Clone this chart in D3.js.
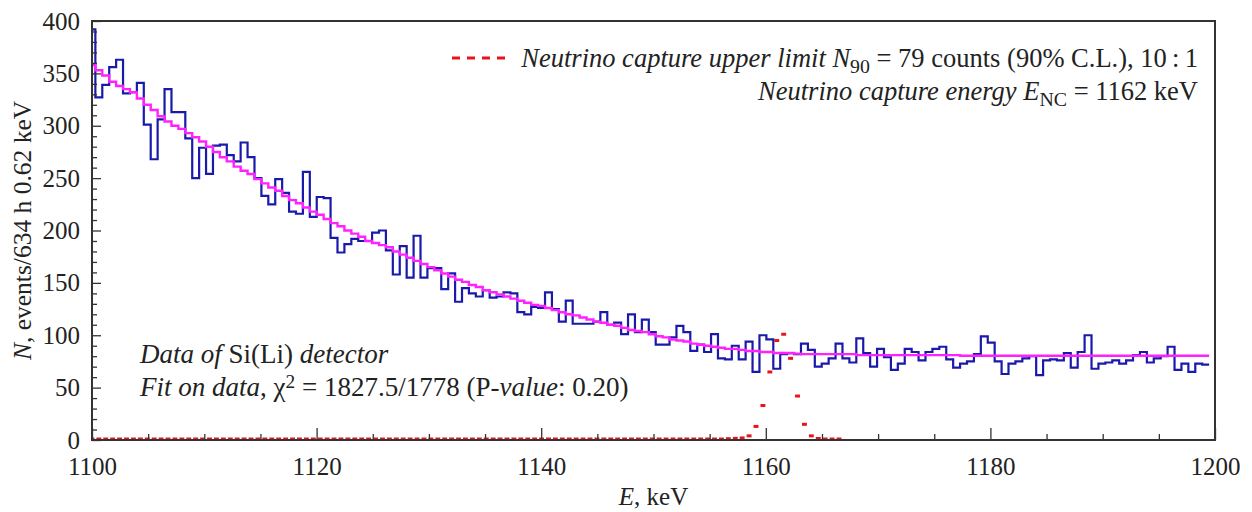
<!DOCTYPE html>
<html><head><meta charset="utf-8">
<script src="https://cdn.jsdelivr.net/npm/d3@7/dist/d3.min.js"></script>
<style>
html,body{margin:0;padding:0;background:#fff;}
svg text{font-family:"Liberation Serif","DejaVu Serif","Noto Serif",serif !important;fill:#222;}
</style></head>
<body><svg id="c" width="1252" height="512"></svg>
<script>
// ---- data ----
const binWidth = 0.616;      // keV per bin (as drawn)
const firstEdge = 1100.3;    // upper edge of the first (partial) bin
const xTicksMajor = [1100, 1120, 1140, 1160, 1180, 1200];
const yTicksMajor = [0, 50, 100, 150, 200, 250, 300, 350, 400];
const dataCounts = [
392,327,339,356,363,331,332,341,301,268,306,335,313,313,288,250,279,254,281,282,
272,266,284,270,250,233,225,249,236,218,216,256,213,232,231,193,179,187,192,190,
190,198,200,181,158,185,155,195,155,164,164,144,159,132,145,140,137,143,136,137,
141,140,122,120,127,126,141,125,113,133,111,111,111,113,122,110,112,101,120,103,
115,103,91,91,98,109,103,85,91,84,101,78,77,90,77,94,65,100,96,68,
82,83,82,92,86,70,73,78,92,78,74,97,83,70,87,79,67,73,87,84,
76,84,87,89,77,69,73,75,82,99,93,75,63,73,75,78,80,62,76,77,
76,83,69,84,100,68,73,74,76,73,76,81,84,74,78,80,89,67,73,65,
73,72];
const fitCounts = [
358,353,348,342,338,335,332,326,320,315,309,304,300,297,293,289,285,280,275,270,
266,261,257,254,249,245,241,238,233,229,226,222,218,215,211,207,204,200,197,194,
190,188,186,184,180,177,174,171,168,165,162,159,156,153,151,148,146,143,141,139,
137,135,133,131,129,128,126,124,122,120,119,117,115,113,112,110,109,107,105,104,
103,101,99,98,96,95,94,92,91,90,89,88,87,87,86,85,85,84,84,83,
83,83,82.5,82,82,82,82,82,82,82,82,81,81,81,81,81,81,81,81,81,
81,81,81,81,81,81,80.5,80.5,80.5,80.5,80.5,80.5,80.5,80.5,80.5,80.5,80.5,80.5,80.5,80.5,
80.5,80.5,80.5,80.5,80.5,80.5,80.5,80.5,80.5,80.5,80.5,80.5,80.5,80.5,80.5,80.5,80.5,80.5,80.5,80.5,
80.5,80.5];
// neutrino capture signal (x10), bins 0..108
const signalCounts = [
0,0,0,0,0,0,0,0,0,0,0,0,0,0,0,0,0,0,0,0,
0,0,0,0,0,0,0,0,0,0,0,0,0,0,0,0,0,0,0,0,
0,0,0,0,0,0,0,0,0,0,0,0,0,0,0,0,0,0,0,0,
0,0,0,0,0,0,0,0,0,0,0,0,0,0,0,0,0,0,0,0,
0,0,0,0,0,0,0,0,0,0,0,0,0.3,0.6,1,3,12,32,64,94,
100,77,41,14,3,0.5,0,0,0];

// ---- layout ----
const FONT = '"Liberation Serif","DejaVu Serif","Noto Serif",serif';
const m = {l: 92, r: 1215, t: 21, b: 440};
const svg = d3.select("#c");
const x = d3.scaleLinear().domain([1100, 1200]).range([m.l, m.r]);
const y = d3.scaleLinear().domain([0, 400]).range([m.b, m.t]);

const lo = i => Math.max(1100, firstEdge + binWidth * (i - 1));
const hi = i => Math.min(1200, firstEdge + binWidth * i);

svg.append("defs").append("clipPath").attr("id", "clip")
  .append("rect").attr("x", m.l).attr("y", m.t).attr("width", m.r - m.l).attr("height", m.b - m.t);

const plot = svg.append("g").attr("clip-path", "url(#clip)");

function stepPts(arr) {
  const pts = arr.map((v, i) => [lo(i), v]);
  pts.push([hi(arr.length - 1), arr[arr.length - 1]]);
  return pts;
}
const stepLine = d3.line().x(d => x(d[0])).y(d => y(d[1])).curve(d3.curveStepAfter);

plot.append("path").attr("d", stepLine(stepPts(dataCounts)))
  .attr("fill", "none").attr("stroke", "#1a1aaa").attr("stroke-width", 2.2);
plot.append("path").attr("d", stepLine(stepPts(fitCounts)))
  .attr("fill", "none").attr("stroke", "#ff22ff").attr("stroke-width", 2.4);

plot.append("g").selectAll("line").data(signalCounts).join("line")
  .attr("x1", (d, i) => x(lo(i)) + 1).attr("x2", (d, i) => x(hi(i)) - 1)
  .attr("y1", d => y(d) - 1).attr("y2", d => y(d) - 1)
  .attr("stroke", "#e8141c").attr("stroke-width", 3);

// ---- axes ----
const xMinor = d3.range(1100, 1201, 5).filter(v => !xTicksMajor.includes(v));
const yMinor = d3.range(0, 401, 10).filter(v => !yTicksMajor.includes(v));

const gx = svg.append("g").attr("transform", `translate(0,${m.b})`)
  .call(d3.axisBottom(x).tickValues(xTicksMajor).tickFormat(d3.format("d")).tickSize(-12).tickPadding(17));
const gxm = svg.append("g").attr("transform", `translate(0,${m.b})`)
  .call(d3.axisBottom(x).tickValues(xMinor).tickFormat("").tickSize(-6));
const gy = svg.append("g").attr("transform", `translate(${m.l},0)`)
  .call(d3.axisLeft(y).tickValues(yTicksMajor).tickSize(-9).tickPadding(12));
const gym = svg.append("g").attr("transform", `translate(${m.l},0)`)
  .call(d3.axisLeft(y).tickValues(yMinor).tickFormat("").tickSize(-5));
[gx, gxm, gy, gym].forEach(g => {
  g.attr("font-family", FONT).attr("font-size", 25);
  g.select(".domain").remove();
  g.selectAll(".tick line").attr("stroke", "#333").attr("stroke-width", 1.3);
  g.selectAll("text").attr("fill", "#222");
});

svg.append("rect").attr("x", m.l).attr("y", m.t).attr("width", m.r - m.l).attr("height", m.b - m.t)
  .attr("fill", "none").attr("stroke", "#333").attr("stroke-width", 2);

// ---- labels ----
function rich(sel, parts) {
  sel.attr("font-family", FONT);
  parts.forEach(p => {
    const t = sel.append("tspan").text(p.t);
    if (p.i) t.attr("font-style", "italic");
    if (p.sub) t.attr("font-size", "0.75em").attr("dy", "0.28em");
    if (p.sup) t.attr("font-size", "0.72em").attr("dy", "-0.42em");
    if (p.back) t.attr("dy", p.back);
  });
}

const xl = svg.append("text").attr("x", (m.l + m.r) / 2).attr("y", 505)
  .attr("text-anchor", "middle").attr("font-size", 25);
rich(xl, [{t: "E", i: 1}, {t: ", keV"}]);

const yl = svg.append("text").attr("transform", `translate(31,${(m.t + m.b) / 2}) rotate(-90)`)
  .attr("text-anchor", "middle").attr("font-size", 25.5);
rich(yl, [{t: "N", i: 1}, {t: ", events/634 h 0.62 keV"}]);

const l1 = svg.append("text").attr("x", 1198).attr("y", 67).attr("text-anchor", "end").attr("font-size", 26.5);
rich(l1, [{t: "Neutrino capture upper limit ", i: 1}, {t: "N", i: 1}, {t: "90", sub: 1},
  {t: " = 79 counts (90% C.L.), 10\u2009:\u20091", back: "-0.21em"}]);
const l2 = svg.append("text").attr("x", 1198).attr("y", 100).attr("text-anchor", "end").attr("font-size", 26.5);
rich(l2, [{t: "Neutrino capture energy ", i: 1}, {t: "E", i: 1}, {t: "NC", sub: 1},
  {t: " = 1162 keV", back: "-0.21em"}]);

svg.append("g").selectAll("line").data([0, 1, 2, 3]).join("line")
  .attr("x1", d => 452 + d * 15).attr("x2", d => 460 + d * 15)
  .attr("y1", 58).attr("y2", 58).attr("stroke", "#e8141c").attr("stroke-width", 3);

const b1 = svg.append("text").attr("x", 140).attr("y", 363).attr("font-size", 27);
rich(b1, [{t: "Data of ", i: 1}, {t: "Si(Li)"}, {t: " detector", i: 1}]);
const b2 = svg.append("text").attr("x", 140).attr("y", 396).attr("font-size", 27);
rich(b2, [{t: "Fit on data", i: 1}, {t: ", \u03c7"}, {t: "2", sup: 1},
  {t: " = 1827.5/1778 (P-", back: "0.3em"}, {t: "value", i: 1}, {t: ": 0.20)"}]);
</script></body></html>
